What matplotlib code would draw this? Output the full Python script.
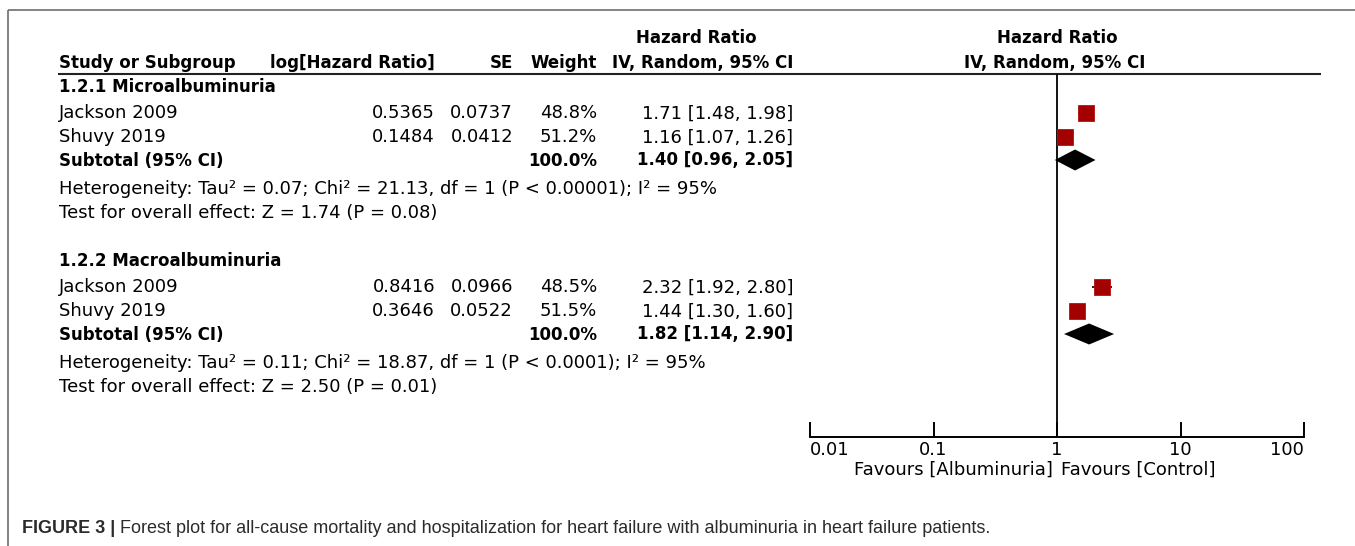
import matplotlib
matplotlib.use("Agg")
import matplotlib.pyplot as plt
import numpy as np

# ---------------- data ----------------
groups = ["1.2.1 Microalbuminuria", "1.2.2 Macroalbuminuria"]
studies = [["Jackson 2009", "Shuvy 2019"], ["Jackson 2009", "Shuvy 2019"]]
log_hr = [[0.5365, 0.1484], [0.8416, 0.3646]]
se = [[0.0737, 0.0412], [0.0966, 0.0522]]
weight = [[48.8, 51.2], [48.5, 51.5]]
hr = [[1.71, 1.16], [2.32, 1.44]]
hr_lo = [[1.48, 1.07], [1.92, 1.30]]
hr_hi = [[1.98, 1.26], [2.80, 1.60]]
sub_hr = [1.40, 1.82]
sub_lo = [0.96, 1.14]
sub_hi = [2.05, 2.90]
tau2 = ["0.07", "0.11"]
chi2 = ["21.13", "18.87"]
df_het = [1, 1]
p_het = ["P < 0.00001", "P < 0.0001"]
i2 = [95, 95]
z_val = ["1.74", "2.50"]
p_val = ["0.08", "0.01"]
ticks = [0.01, 0.1, 1, 10, 100]
tick_labels = ["0.01", "0.1", "1", "10", "100"]
caption_bold = "FIGURE 3 |"
caption_text = ("Forest plot for all-cause mortality and hospitalization for heart "
                "failure with albuminuria in heart failure patients.")

# ---------------- layout ----------------
W, H = 1355, 546
FONT = "DejaVu Sans"
FS = 13.0      # regular text
FSB = 12.0     # bold text
CAP_FONT = "Liberation Sans"
CAP_FS = 12.95

fig = plt.figure(figsize=(W / 100, H / 100), dpi=100)
bg = fig.add_axes([0, 0, 1, 1])
bg.set_xlim(0, W)
bg.set_ylim(H, 0)
bg.axis("off")

AX_L, AX_R = 810, 1304
ax = fig.add_axes([AX_L / W, 0, (AX_R - AX_L) / W, 1])
ax.set_xscale("log")
ax.set_xlim(ticks[0], ticks[-1])
ax.set_ylim(H, 0)
ax.patch.set_alpha(0)
for s in ["top", "left", "right"]:
    ax.spines[s].set_visible(False)
AXIS_Y = 437
ax.spines["bottom"].set_position(("data", AXIS_Y))
ax.spines["bottom"].set_linewidth(1.4)
ax.set_yticks([])
ax.set_xticks(ticks)
ax.set_xticklabels(tick_labels, fontsize=FS, family=FONT)
ax.xaxis.set_minor_locator(matplotlib.ticker.NullLocator())
ax.tick_params(axis="x", direction="in", length=11, width=1.4, pad=3)
lbls = ax.get_xticklabels()
lbls[0].set_horizontalalignment("left")
lbls[-1].set_horizontalalignment("right")

# frame border
bg.plot([8, 8], [10, H], color="#6e6e6e", lw=1.2, solid_capstyle="butt")
bg.plot([8, W], [10, 10], color="#6e6e6e", lw=1.2, solid_capstyle="butt")

def txt(x, y, s, ha="left", bold=False):
    return bg.text(x, y, s, ha=ha, va="baseline", fontsize=FSB if bold else FS,
                   family=FONT, fontweight="bold" if bold else "normal", color="black")

# headers (baselines)
X_NAME, X_LOG, X_SE, X_W, X_CI = 59, 435, 513, 597, 793
txt(696, 43, "Hazard Ratio", ha="center", bold=True)
txt(1057, 43, "Hazard Ratio", ha="center", bold=True)
txt(X_NAME, 68, "Study or Subgroup", bold=True)
txt(X_LOG, 68, "log[Hazard Ratio]", ha="right", bold=True)
txt(X_SE, 68, "SE", ha="right", bold=True)
txt(X_W, 68, "Weight", ha="right", bold=True)
txt(X_CI, 68, "IV, Random, 95% CI", ha="right", bold=True)
txt(1055, 68, "IV, Random, 95% CI", ha="center", bold=True)
bg.plot([58, 1321], [73.5, 73.5], color="#222222", lw=1.5, solid_capstyle="butt")

# null line
ax.vlines(1, 73.5, AXIS_Y, color="black", lw=1.3)

SEC0, SEC_STEP = 86, 174
REL_STUDY = [27, 51]
REL_SUB, REL_HET, REL_TEST = 74, 102, 126
OFF = 5.5  # baseline below visual centre

for g in range(len(groups)):
    y0 = SEC0 + g * SEC_STEP
    txt(X_NAME, y0 + OFF, groups[g], bold=True)
    for k in range(len(studies[g])):
        yc = y0 + REL_STUDY[k]
        txt(X_NAME, yc + OFF, studies[g][k])
        txt(X_LOG, yc + OFF, f"{log_hr[g][k]:.4f}", ha="right")
        txt(X_SE, yc + OFF, f"{se[g][k]:.4f}", ha="right")
        txt(X_W, yc + OFF, f"{weight[g][k]:.1f}%", ha="right")
        txt(X_CI, yc + OFF, f"{hr[g][k]:.2f} [{hr_lo[g][k]:.2f}, {hr_hi[g][k]:.2f}]", ha="right")
        ax.hlines(yc, hr_lo[g][k], hr_hi[g][k], color="black", lw=1.2)
        ms = 11.2 * np.sqrt(weight[g][k] / 50.0)
        ax.plot([hr[g][k]], [yc], marker="s", ms=ms, color="#a30000",
                markeredgecolor="#b31010", markeredgewidth=0.6, linestyle="none")
    ys = y0 + REL_SUB
    txt(X_NAME, ys + OFF, "Subtotal (95% CI)", bold=True)
    txt(X_W, ys + OFF, f"{sum(weight[g]):.1f}%", ha="right", bold=True)
    txt(X_CI, ys + OFF, f"{sub_hr[g]:.2f} [{sub_lo[g]:.2f}, {sub_hi[g]:.2f}]", ha="right", bold=True)
    dh = 10.5
    ax.fill([sub_lo[g], sub_hr[g], sub_hi[g], sub_hr[g]],
            [ys, ys - dh, ys, ys + dh], color="black", lw=0)
    txt(X_NAME, y0 + REL_HET + OFF,
        f"Heterogeneity: Tau\u00b2 = {tau2[g]}; Chi\u00b2 = {chi2[g]}, df = {df_het[g]} "
        f"({p_het[g]}); I\u00b2 = {i2[g]}%")
    txt(X_NAME, y0 + REL_TEST + OFF,
        f"Test for overall effect: Z = {z_val[g]} (P = {p_val[g]})")

# favours labels
txt(1053, 475, "Favours [Albuminuria]", ha="right")
txt(1061, 475, "Favours [Control]", ha="left")

# caption
CAP_Y = 533
cb = bg.text(22, CAP_Y, caption_bold, ha="left", va="baseline", fontsize=CAP_FS,
             family=CAP_FONT, fontweight="bold", color="#2b2b2b")
fig.canvas.draw()
bb = cb.get_window_extent(renderer=fig.canvas.get_renderer())
x1 = bg.transData.inverted().transform((bb.x1, bb.y0))[0] + 5
bg.text(x1, CAP_Y, caption_text, ha="left", va="baseline", fontsize=CAP_FS,
        family=CAP_FONT, color="#2b2b2b")

fig.savefig("out.png", dpi=100)
